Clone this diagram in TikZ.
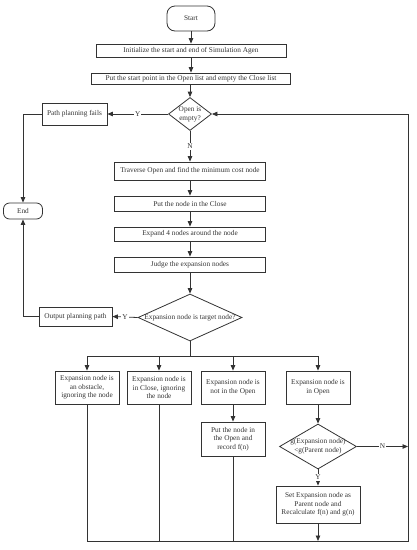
\documentclass[tikz,border=0pt]{standalone}
\usepackage{fontspec}
\setmainfont{Liberation Serif}
\usetikzlibrary{shapes.geometric,arrows.meta}
\newcommand{\dtext}[1]{\makebox[0pt]{\begin{tabular}{@{}c@{}}#1\end{tabular}}}
\begin{document}
\begin{tikzpicture}[x=1pt,y=-1pt,
  font=\fontsize{7.3}{8.7}\selectfont,
  every node/.style={text=black!80},
  box/.style={draw=black!80, line width=0.8pt, inner sep=0pt, align=center},
  dia/.style={draw=black!80, diamond, line width=0.8pt, inner sep=0pt, aspect=1},
  arr/.style={draw=black!80, line width=0.8pt, -{Triangle[length=5.5pt,width=4.5pt]}},
  ln/.style={draw=black!80, line width=0.8pt},
  lab/.style={fill=white, inner sep=1pt}]
\useasboundingbox (0,0) rectangle (416,550);

\node[box, rounded corners=8pt, minimum width=48pt, minimum height=25pt] (start) at (191,18.5) {Start};
\node[box, minimum width=190pt, minimum height=13pt] (init) at (191,50.5) {Initialize the start and end of Simulation Agen};
\node[box, minimum width=199pt, minimum height=11pt] (put) at (191,78.5) {Put the start point in the Open list and empty the Close list};
\node[dia, minimum width=43pt, minimum height=33pt] (open) at (190,114) {\dtext{Open is\\empty?}};
\node[box, minimum width=65pt, minimum height=22pt] (fail) at (74.5,114) {Path planning fails};
\node[box, rounded corners=6pt, minimum width=39pt, minimum height=16pt] (end) at (23,211) {End};
\node[box, minimum width=151pt, minimum height=18pt] (trav) at (190,171) {Traverse Open and find the minimum cost node};
\node[box, minimum width=151pt, minimum height=15pt] (close) at (190,203.5) {Put the node in the Close};
\node[box, minimum width=151pt, minimum height=14pt] (exp) at (190,234) {Expand 4 nodes around the node};
\node[box, minimum width=151pt, minimum height=15pt] (judge) at (190,264.5) {Judge the expansion nodes};
\node[dia, minimum width=104pt, minimum height=47pt] (target) at (190,317.5) {\dtext{Expansion node is target node?}};
\node[box, minimum width=73pt, minimum height=19pt] (out) at (75.5,316.5) {Output planning path};

\node[box, minimum width=64pt, minimum height=33pt] (b1) at (87,387.5) {Expansion node is\\an obstacle,\\ignoring the node};
\node[box, minimum width=64pt, minimum height=33pt] (b2) at (159,387.5) {Expansion node is\\in Close, ignoring\\the node};
\node[box, minimum width=64pt, minimum height=33pt] (b3) at (233,387.5) {Expansion node is\\not in the Open};
\node[box, minimum width=64pt, minimum height=33pt] (b4) at (318,387.5) {Expansion node is\\in Open};
\node[box, minimum width=64pt, minimum height=34pt] (putopen) at (233,439) {Put the node in\\the Open and\\record f(n)};
\node[dia, minimum width=77pt, minimum height=45pt] (g) at (318,446.5) {\dtext{g(Expansion node)\\<g(Parent node)}};
\node[box, minimum width=84pt, minimum height=37pt] (set) at (318,504.5) {Set Expansion node as\\Parent node and\\Recalculate f(n) and g(n)};

\coordinate (br) at (190,356);
\coordinate (bl) at (87,541);
\coordinate (rb) at (408,541);
\coordinate (rt) at (408,114);

\draw[arr] (start) -- (init);
\draw[arr] (init) -- (put);
\draw[arr] (put.south -| open.north) -- (open.north);
\draw[arr] (open.west) -- node[lab]{Y} (fail.east);
\draw[arr] (fail.west) -| (end.north);
\draw[arr] (open.south) -- node[lab]{N} (trav.north);
\draw[arr] (trav) -- (close);
\draw[arr] (close) -- (exp);
\draw[arr] (exp) -- (judge);
\draw[arr] (judge) -- (target);
\draw[arr] (target.west) -- node[lab]{Y} (out.east);
\draw[arr] (out.west) -| (end.south);
\draw[ln] (target.south) -- (br);
\draw[arr] (br) -| (b1.north);
\draw[arr] (br) -| (b2.north);
\draw[arr] (br) -| (b3.north);
\draw[arr] (br) -| (b4.north);
\draw[arr] (b3) -- (putopen);
\draw[arr] (b4) -- (g);
\draw[arr] (g.south) -- node[lab]{Y} (set.north);
\draw[arr] (g.east) -- node[lab]{N} (g.east -| rt);
\draw[arr] (set.south) -- (set.south |- bl);
\draw[ln] (b2.south) -- (b2.south |- bl);
\draw[ln] (putopen.south) -- (putopen.south |- bl);
\draw[arr] (b1.south) -- (bl) -- (rb) -- (rt) -- (open.east);
\end{tikzpicture}
\end{document}
